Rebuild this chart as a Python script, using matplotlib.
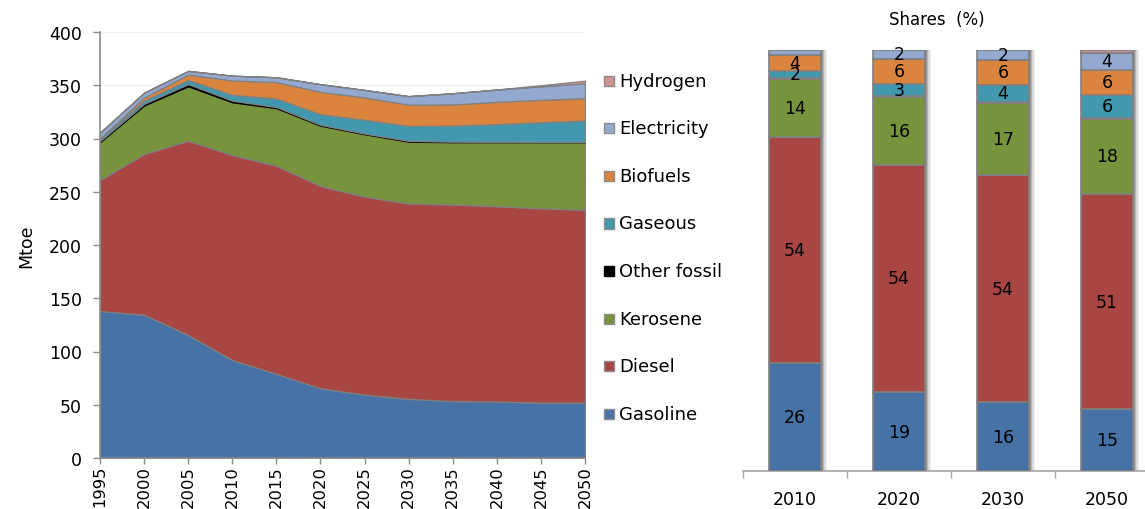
import matplotlib
matplotlib.use("Agg")
import matplotlib.pyplot as plt
from matplotlib.patches import Rectangle
import numpy as np

plt.rcParams['font.family'] = ['DejaVu Sans']

years = [1995, 2000, 2005, 2010, 2015, 2020, 2025, 2030, 2035, 2040, 2045, 2050]
gasoline = [138, 134.5, 115.5, 92, 79, 65.5, 59.5, 55.5, 53.5, 53, 52, 52]
diesel = [123, 151, 182.5, 192.5, 195.5, 190, 186, 183.5, 184.5, 183.5, 182.5, 181]
kerosene = [35.5, 45.5, 51, 49.5, 54, 56.5, 58.5, 58, 58.5, 60, 62, 63.5]
other_fossil = [1, 1.5, 2, 1.5, 1, 0.8, 0.6, 0.8, 0.5, 0.4, 0.3, 0.3]
gaseous = [2, 3, 4, 5.5, 8, 10, 13, 14, 15, 16.5, 18.5, 20]
biofuels = [0.5, 3, 5, 13.5, 15.5, 21, 21, 20, 20, 21, 21, 21]
electricity = [5.5, 4.5, 3.5, 4.5, 4.5, 7.2, 7, 8, 10.5, 11.5, 12.7, 14]
hydrogen = [0, 0, 0, 0, 0, 0, 0, 0, 0, 0.2, 1, 2.5]

series_names = ["Gasoline", "Diesel", "Kerosene", "Other fossil", "Gaseous",
                "Biofuels", "Electricity", "Hydrogen"]
colors = ["#4672A6", "#A84644", "#77933C", "#000000", "#4198AF",
          "#DB843D", "#93A9CF", "#D19392"]
series = [gasoline, diesel, kerosene, other_fossil, gaseous, biofuels,
          electricity, hydrogen]

share_years = [2010, 2020, 2030, 2050]

W, H = 1145, 510
fig = plt.figure(figsize=(W / 100, H / 100), dpi=100)

# ---------- Left: stacked area ----------
ax = fig.add_axes([100 / W, (H - 459) / H, 485 / W, 426 / H])
ax.set_axisbelow(True)
ax.yaxis.grid(True, color="#EEF2F7", linewidth=1)
polys = ax.stackplot(years, *series, colors=colors, edgecolor="#808080",
                     linewidth=0.9)
polys[3].set_edgecolor("#000000")
ax.set_xlim(1995, 2050)
ax.set_ylim(0, 400)
ax.set_yticks(range(0, 401, 50))
ax.set_xticks(years)
ax.set_xticklabels([str(y) for y in years], rotation=90)
for s in ["top", "right"]:
    ax.spines[s].set_visible(False)
for s in ["left", "bottom"]:
    ax.spines[s].set_color("#8C8C8C")
    ax.spines[s].set_linewidth(1.2)
ax.tick_params(axis="y", colors="#8C8C8C", length=5, width=1,
               labelcolor="black", labelsize=12.5, pad=8)
ax.tick_params(axis="x", colors="#8C8C8C", length=4, width=1,
               labelcolor="black", labelsize=11.8, pad=1)
ax.set_ylabel("Mtoe", fontsize=12.5, labelpad=10)

# ---------- Legend (manual) ----------
leg_y0 = 81.7
leg_dy = 47.6
for i, (name, col) in enumerate(zip(series_names[::-1], colors[::-1])):
    yc = leg_y0 + i * leg_dy
    ec = "#000000" if name == "Other fossil" else "#8C8C8C"
    fig.patches.append(Rectangle(((604) / W, (H - yc - 5) / H), 10 / W, 10 / H,
                                 transform=fig.transFigure, facecolor=col,
                                 edgecolor=ec, linewidth=1))
    fig.text(619 / W, (H - yc) / H, name, fontsize=13, va="center",
             ha="left")

# ---------- Right: shares bars ----------
bx = fig.add_axes([743 / W, (H - 472) / H, 416 / W, 421 / H])
idx = [years.index(y) for y in share_years]
totals = [sum(s[i] for s in series) for i in idx]
xpos = np.arange(len(share_years))
bw = 0.5

# shadow
for off, a in [(0.015, 0.35), (0.03, 0.25), (0.045, 0.15), (0.06, 0.08)]:
    bx.bar(xpos + off, [100] * len(xpos), width=bw, color="#555555",
           alpha=a, linewidth=0, zorder=1)

bottom = np.zeros(len(xpos))
for s, col in zip(series, colors):
    vals = np.array([s[i] / t * 100 for i, t in zip(idx, totals)])
    bx.bar(xpos, vals, width=bw, bottom=bottom, color=col,
           edgecolor="#808080", linewidth=1.2, zorder=3)
    for x, v, b in zip(xpos, vals, bottom):
        r = int(round(v))
        if r >= 2:
            bx.text(x, b + v / 2, str(r), ha="center", va="center",
                    fontsize=12.5, zorder=4)
    bottom += vals

bx.set_xlim(-0.5, 3.5)
bx.set_ylim(0, 100)
bx.set_xticks(xpos)
bx.set_xticklabels([str(y) for y in share_years], fontsize=12.5)
bx.set_xticks(np.arange(-0.5, 4.0, 1.0), minor=True)
bx.tick_params(axis="x", which="major", length=0, pad=14)
bx.tick_params(axis="x", which="minor", length=5, color="#A6A6A6", width=1)
bx.set_yticks([])
for s in ["top", "right", "left"]:
    bx.spines[s].set_visible(False)
bx.spines["bottom"].set_color("#A6A6A6")
bx.spines["bottom"].set_linewidth(1.2)

fig.text(937 / W, (H - 20) / H, "Shares  (%)", fontsize=12, ha="center",
         va="center")

fig.savefig("out.png", dpi=100)
